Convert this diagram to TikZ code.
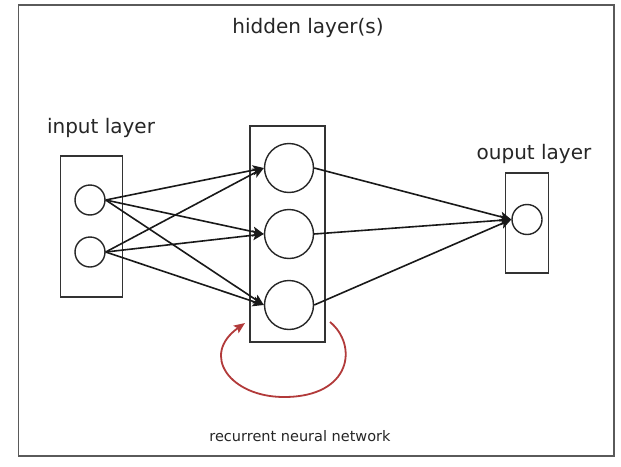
\documentclass[tikz,border=0pt]{standalone}
\usepackage{fontspec}
\setmainfont{DejaVu Sans}
\usetikzlibrary{arrows.meta}
\definecolor{framegray}{HTML}{5A5A5A}
\definecolor{txtgray}{HTML}{262626}
\definecolor{loopred}{HTML}{B23A3A}
\begin{document}
\begin{tikzpicture}[x=1pt,y=-1pt,
  layerbox/.style={draw=black!80,line width=1.7pt},
  neuron/.style={draw=black!85,circle,line width=1.4pt,inner sep=0pt},
  conn/.style={draw=black!90,line width=1.6pt,-{Stealth[length=11pt,width=10pt,inset=2.5pt]}},
  lbl/.style={text=txtgray,font=\fontsize{20}{24}\selectfont,inner sep=0pt},
  smalllbl/.style={text=txtgray,font=\fontsize{14.5}{17}\selectfont,inner sep=0pt}]
\useasboundingbox (0,0) rectangle (621,466);
\fill[white] (0,0) rectangle (621,466);
\draw[framegray,line width=1.8pt] (18.5,5) rectangle (614,456);
% boxes
\node[layerbox,minimum width=62pt,minimum height=141pt,inner sep=0pt] (inbox) at (91.5,226.5) {};
\node[layerbox,minimum width=75pt,minimum height=216pt,inner sep=0pt] (hidbox) at (287.5,234) {};
\node[layerbox,minimum width=43pt,minimum height=100pt,inner sep=0pt] (outbox) at (527,223) {};
% neurons
\node[neuron,minimum size=30pt] (i1) at (90,200) {};
\node[neuron,minimum size=30pt] (i2) at (90,252) {};
\node[neuron,minimum size=49pt] (h1) at (289,168) {};
\node[neuron,minimum size=49pt] (h2) at (289,234) {};
\node[neuron,minimum size=49pt] (h3) at (289,305) {};
\node[neuron,minimum size=30pt] (o1) at (527,219.5) {};
% labels
\node[lbl] (tHid) at (308,28) {hidden layer(s)};
\node[lbl] (tIn) at (101,128) {input layer};
\node[lbl] (tOut) at (534,154) {ouput layer};
\node[smalllbl] (tRnn) at (300,436) {recurrent neural network};
% connections
\foreach \a in {i1,i2}{
  \foreach \b in {h1,h2,h3}{
    \draw[conn] (\a.east) -- (\b.west);
  }
}
\foreach \b in {h1,h2,h3}{
  \draw[conn] (\b.east) -- (o1.west);
}
% recurrent loop
\coordinate (lpS) at (330,322);
\coordinate (lpB) at (284,397);
\coordinate (lpE) at (245,323);
\draw[loopred,line width=1.8pt,-{Stealth[length=11pt,width=9pt,inset=2pt]}]
  (lpS) .. controls (358,345) and (352,397) .. (lpB)
        .. controls (230,397) and (200,355) .. (lpE);
\end{tikzpicture}
\end{document}
